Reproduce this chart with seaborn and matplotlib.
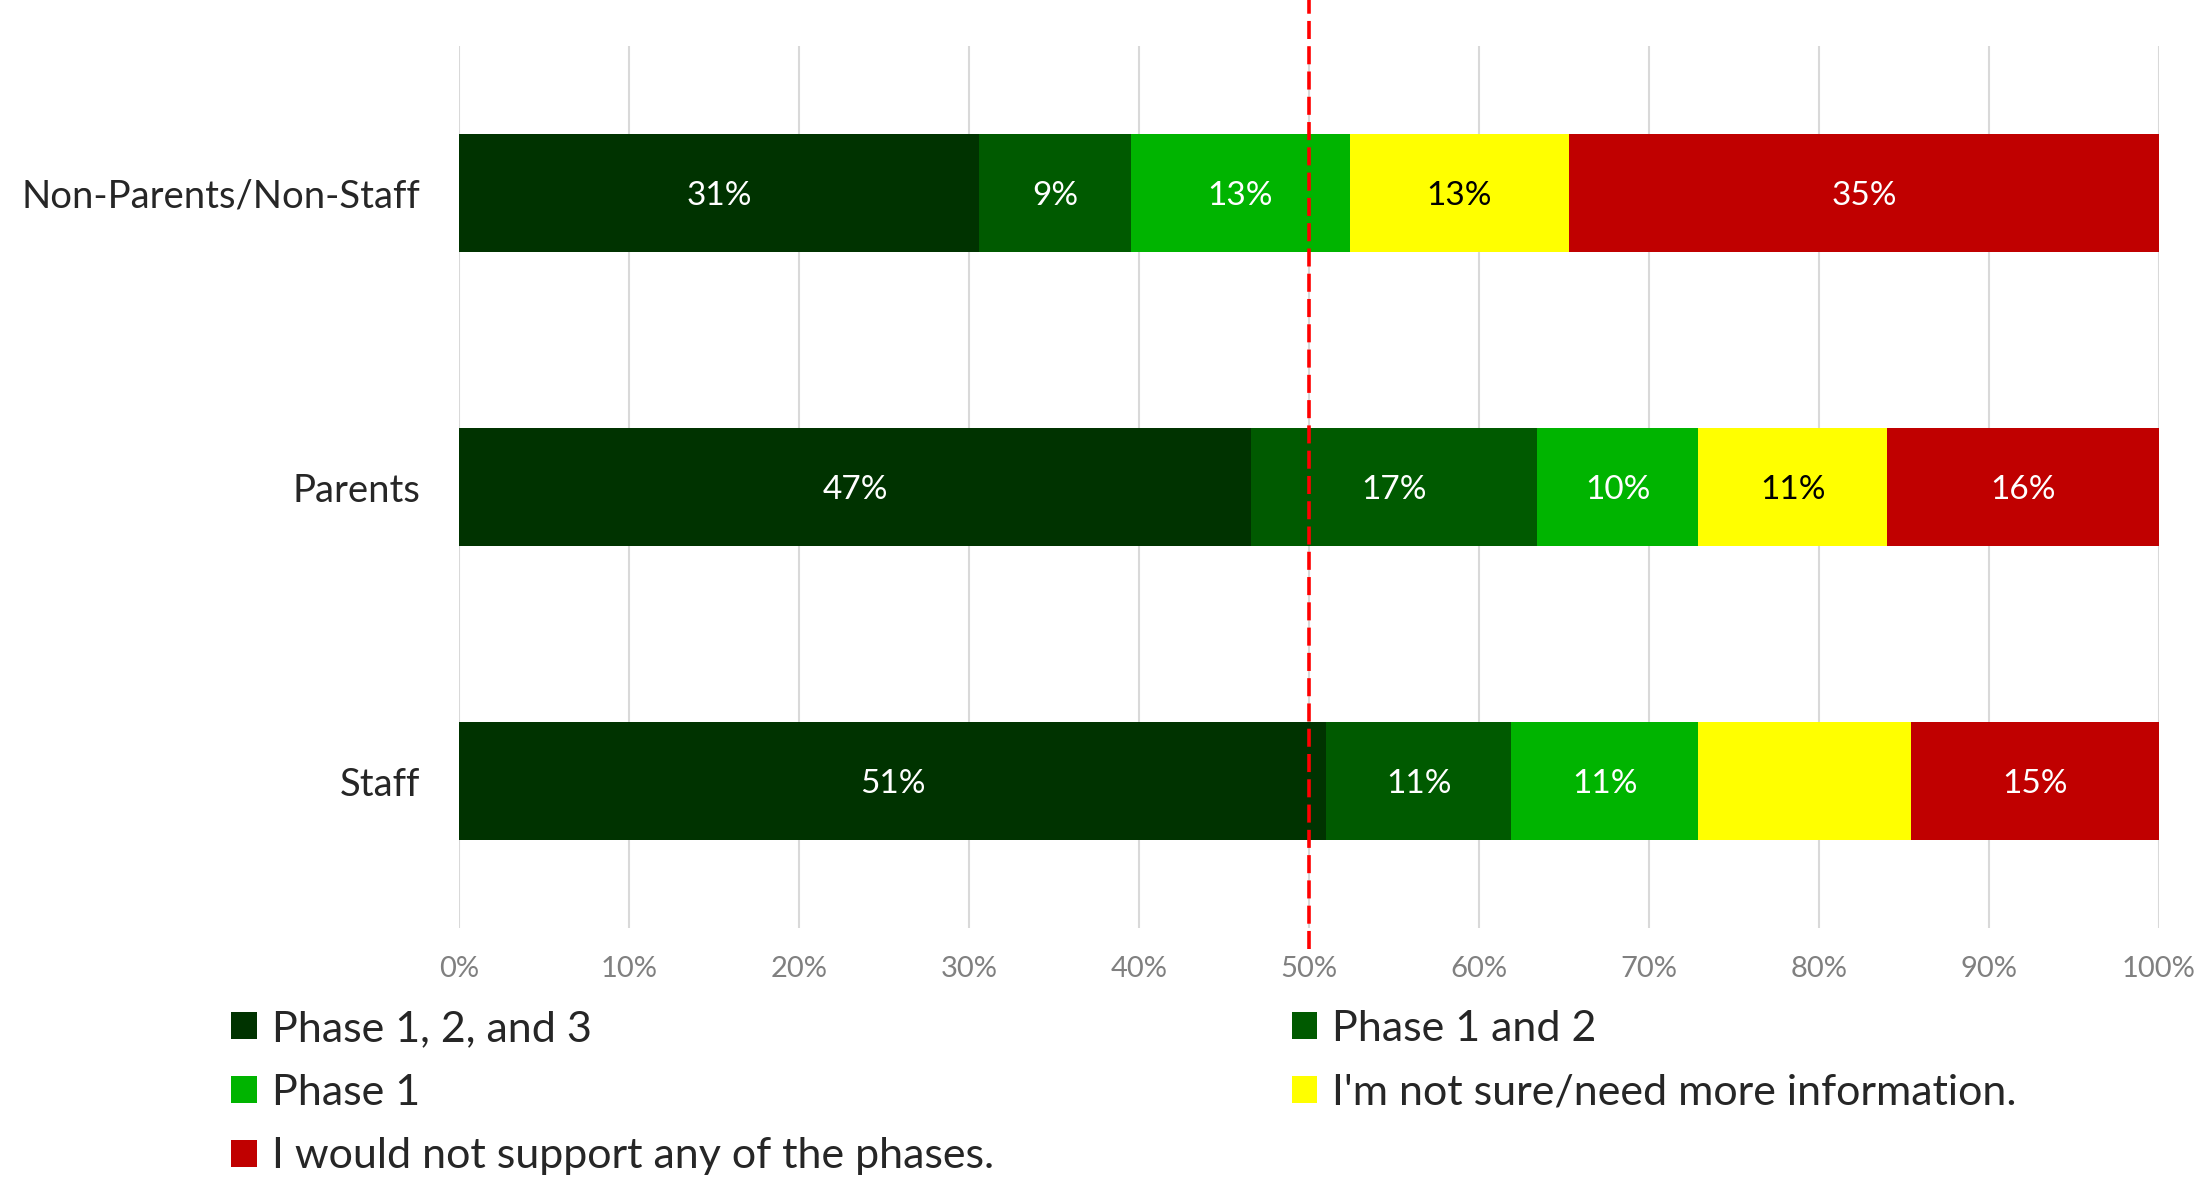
import numpy as np
import pandas as pd
import matplotlib
matplotlib.use("Agg")
import matplotlib.pyplot as plt
from matplotlib.patches import Patch
import seaborn as sns

# data (percent of respondents)
groups = ["Non-Parents/Non-Staff", "Parents", "Staff"]
series = ["Phase 1, 2, and 3", "Phase 1 and 2", "Phase 1",
          "I'm not sure/need more information.", "I would not support any of the phases."]
phase123 = [30.6, 46.6, 51.0]
phase12 = [8.9, 16.8, 10.9]
phase1 = [12.9, 9.5, 11.0]
not_sure = [12.9, 11.1, 12.5]
no_support = [34.7, 16.0, 14.6]
# the yellow Staff segment has no label in the original
bar_labels = [["31%", "47%", "51%"],
              ["9%", "17%", "11%"],
              ["13%", "10%", "11%"],
              ["13%", "11%", ""],
              ["35%", "16%", "15%"]]

colors = ["#003300", "#005A00", "#00B400", "#FFFF00", "#C00000"]
text_colors = ["white", "white", "white", "black", "white"]

sns.set_style("white")
plt.rcParams["font.family"] = ["Lato", "DejaVu Sans"]

values = np.array([phase123, phase12, phase1, not_sure, no_support])
cums = values.cumsum(axis=0)

fig = plt.figure(figsize=(22.04, 11.81), dpi=100)
ax = fig.add_axes([0.2083, 0.2142, 0.7713, 0.7468])

# stacked bars: draw cumulative totals from the longest down
for i in range(len(series) - 1, -1, -1):
    df = pd.DataFrame({"group": groups, "total": cums[i]})
    sns.barplot(data=df, x="total", y="group", color=colors[i], width=0.404,
                saturation=1, linewidth=0, ax=ax, zorder=2)

for i in range(len(series)):
    for j in range(len(groups)):
        if bar_labels[i][j]:
            ax.text(cums[i][j] - values[i][j] / 2, j, bar_labels[i][j],
                    ha="center", va="center_baseline", color=text_colors[i],
                    fontsize=24, zorder=4)

ax.set_xlim(0, 100)
ax.set_ylim(2.5, -0.5)
ax.set_xticks(np.arange(0, 101, 10))
ax.set_xticklabels([f"{t}%" for t in range(0, 101, 10)], color="#808080", fontsize=21)
ax.tick_params(axis="x", length=0, pad=20)
ax.tick_params(axis="y", length=0, pad=28, labelsize=27.5)
ax.set_xlabel("")
ax.set_ylabel("")
ax.grid(axis="x", color="#D9D9D9", linewidth=1.5, zorder=0)
ax.set_axisbelow(True)
for s in ax.spines.values():
    s.set_visible(False)

# 50% reference line, running past the plot area
ax.axvline(50, ymin=-0.024, ymax=1.06, color="#FF0000", linestyle=(0, (5, 2)),
           linewidth=2.6, clip_on=False, zorder=5)

handles = [Patch(facecolor=c, edgecolor="none") for c in colors]
order = [0, 2, 4, 1, 3]
fig.legend([handles[k] for k in order], [series[k] for k in order],
           loc="upper left", bbox_to_anchor=(0.105, 0.145), ncol=2, frameon=False,
           fontsize=31, handlelength=0.6, handleheight=0.6, handletextpad=0.35,
           labelspacing=0.6, columnspacing=6.9, borderaxespad=0, borderpad=0)

fig.savefig("out.png", dpi=100)
